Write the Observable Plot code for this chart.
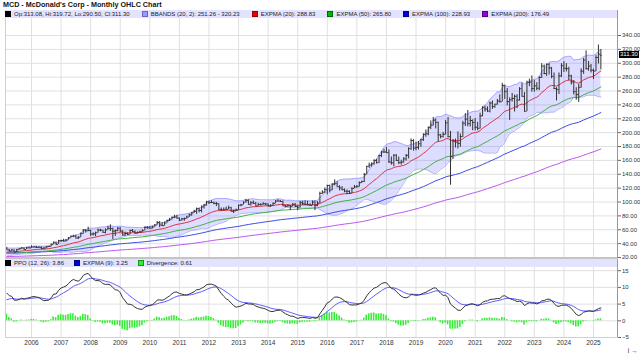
<!DOCTYPE html>
<html><head><meta charset="utf-8">
<script src="https://cdn.jsdelivr.net/npm/d3@7"></script>
<script src="https://cdn.jsdelivr.net/npm/@observablehq/plot@0.6"></script>
<style>
body{margin:0;background:#fff;font-family:"Liberation Sans",Arial,sans-serif;color:#222;}
#wrap{position:relative;width:640px;height:355px;overflow:hidden;background:#fff;}
#title{position:absolute;left:3px;top:0px;font-weight:bold;font-size:7.2px;line-height:10px;color:#111;white-space:nowrap;}
.panel{position:absolute;left:0;}
.leg{position:absolute;left:5px;width:612px;height:8px;background:#e3e3ff;display:flex;align-items:center;font-size:6px;white-space:nowrap;color:#222;}
.it{display:flex;align-items:center;}
.it i{display:inline-block;width:4px;height:4px;border:1px solid #000;margin-right:3px;}
#sep{position:absolute;left:5px;width:612px;top:257px;height:2px;background:#c4c4c4;}
#last{position:absolute;left:619px;height:7px;line-height:7px;font-size:6px;background:#000;color:#fff;padding:0 1px;}
</style></head>
<body><div id="wrap"><div id="title">MCD - McDonald's Corp - Monthly OHLC Chart</div></div>
<script>
// ---------- DATA (monthly bars, Mar 2005 .. Apr 2025) ----------
const historyCloses = [16.9,13.9,14.46,17.1,18.65,22.06,23.0,22.5,23.54,25.0,25.5,24.83,
 25.9,28.6,28.57,27.23,26.45,26.0,27.5,27.0,28.03,29.15,30.74,32.06, 32.39,33.08]; // Jan 2003 .. Feb 2005
const opens = [
 33.0,31.1,29.4,30.9,27.8,31.2,32.5,33.5,31.6,33.9,
 33.8,35.0,34.9,34.4,34.6,33.2,33.6,35.4,35.9,39.1,41.9,38.9,
 44.3,44.4,43.7,45.1,48.3,50.6,50.8,47.9,49.3,54.5,59.7,58.5,
 58.9,53.6,54.1,55.8,59.6,59.3,56.2,59.8,62.1,61.7,57.9,58.8,
 62.2,58.0,52.3,54.6,53.3,59.0,57.5,55.1,56.2,57.1,58.6,63.3,
 62.6,62.4,63.9,66.7,70.6,66.9,65.9,69.7,73.0,74.5,77.8,78.3,
 76.8,73.7,75.7,76.1,78.3,81.5,84.3,86.5,90.5,87.8,92.9,95.5,
 100.3,99.1,99.3,98.1,97.5,89.3,88.5,89.4,89.5,91.8,86.8,87.0,
 88.2,95.3,95.9,99.7,102.1,96.6,99.0,98.1,94.4,96.2,96.5,97.4,
 97.0,94.2,95.1,98.0,101.4,101.4,100.7,94.6,93.7,94.8,93.7,96.8,
 93.7,92.5,98.9,97.4,96.6,95.9,95.1,99.9,95.0,98.5,112.3,114.2,
 118.1,123.8,117.2,125.7,126.5,122.1,120.3,117.7,115.7,115.4,112.6,119.4,
 121.7,122.6,127.7,129.6,139.9,151.3,153.2,155.1,160.0,156.7,166.9,172.2,
 172.1,171.2,157.7,156.4,167.4,160.0,156.7,157.5,162.2,167.3,176.9,188.5,
 177.6,178.8,183.9,189.9,197.6,198.3,207.7,210.7,218.0,214.7,196.7,194.5,
 197.6,214.0,194.0,165.4,187.6,186.3,184.5,194.3,213.5,219.5,213.0,217.4,
 214.6,207.8,206.2,224.1,236.1,233.9,231.0,242.7,237.5,241.1,245.6,244.5,
 268.1,259.5,244.7,247.3,249.2,252.2,246.9,263.4,252.3,230.7,272.7,272.8,
 263.5,267.4,263.9,279.6,295.8,285.1,298.4,293.2,281.2,263.4,262.2,281.8,
 296.5,292.7,292.3,281.9,273.0,259.0,254.8,265.4,288.6,304.5,292.1,295.9,
 289.9,288.7,308.3,313.08];
const highs = [
 34.6,31.4,31.3,31.0,31.5,32.8,34.2,33.8,34.4,35.0,
 36.8,36.0,36.1,35.8,35.4,34.2,35.6,36.1,39.3,42.4,42.3,44.7,
 44.9,46.2,45.7,48.5,51.0,52.0,52.2,50.0,55.2,60.2,60.2,63.7,
 59.5,55.5,56.6,61.1,60.6,59.4,61.3,65.0,67.0,62.5,59.5,63.0,
 63.0,58.6,56.6,55.6,59.5,60.4,58.4,56.8,58.0,60.0,64.1,64.7,
 64.8,65.2,67.4,71.8,71.9,70.4,71.0,73.7,76.3,78.3,80.9,80.9,
 77.0,76.4,76.9,79.5,82.4,84.9,88.0,91.3,91.3,94.4,96.5,101.0,
 101.4,101.9,100.0,99.5,97.6,91.3,91.4,92.7,94.0,92.3,88.5,89.9,
 95.5,96.6,100.0,103.7,103.2,100.8,101.5,99.4,98.1,97.5,99.0,98.0,
 97.6,96.0,98.5,102.0,103.4,102.0,101.6,95.3,95.7,95.0,97.6,97.7,
 94.7,100.8,101.1,101.7,101.0,97.5,101.5,101.5,100.5,114.2,116.3,120.2,
 124.2,124.4,126.4,131.9,129.1,123.5,122.2,118.8,117.2,116.2,120.6,123.9,
 123.6,128.9,130.0,141.0,151.4,156.1,156.6,160.8,161.6,167.3,173.0,175.9,
 178.7,175.0,164.9,168.1,168.4,164.8,160.2,163.9,168.5,178.2,190.9,189.9,
 186.4,187.3,190.6,198.2,203.8,208.0,216.9,221.9,219.5,215.4,197.5,200.3,
 217.4,221.9,201.8,190.0,190.8,201.0,198.0,216.3,227.4,231.9,223.4,218.5,
 220.3,214.9,228.0,237.4,238.2,237.2,244.0,245.6,240.5,247.8,254.5,271.2,
 268.5,263.7,250.1,256.5,254.2,254.7,264.8,271.1,257.9,274.2,277.0,281.7,
 275.0,272.0,280.3,299.4,297.6,299.0,299.4,294.0,286.0,264.8,286.0,299.4,
 302.4,299.4,294.2,282.7,275.0,264.7,269.5,292.0,307.0,317.9,302.6,298.2,
 291.5,311.0,326.3,319.72];
const lows = [
 30.9,28.3,28.8,27.7,27.4,31.0,32.2,31.0,31.4,33.1,
 33.4,34.2,33.9,33.9,32.5,31.7,32.8,34.6,35.5,38.7,38.6,38.8,
 42.0,42.3,42.3,44.9,48.1,49.5,47.5,45.9,48.8,53.5,55.2,57.2,
 50.4,50.9,50.0,55.2,57.1,55.4,54.0,59.4,57.5,45.8,50.4,57.0,
 56.5,51.3,50.4,51.3,52.9,56.0,53.9,53.9,55.3,56.6,58.5,61.4,
 61.1,61.1,63.5,66.6,62.9,64.8,65.3,69.5,71.9,74.2,76.5,75.9,
 72.1,72.6,72.1,75.5,77.7,79.5,83.8,82.1,84.3,84.3,89.8,94.2,
 96.6,97.8,96.0,93.4,88.5,87.1,87.5,88.6,89.0,85.9,83.3,86.6,
 88.1,93.1,95.6,98.4,96.5,94.1,97.0,94.2,94.2,94.1,95.8,94.6,
 93.5,92.2,94.5,97.3,100.1,99.5,94.3,91.8,92.2,87.6,93.0,92.4,
 87.5,91.5,95.0,94.9,95.4,94.4,94.5,87.5,93.3,98.0,111.1,112.3,
 110.3,113.0,116.3,123.2,122.1,116.0,116.5,113.3,110.3,110.8,112.2,119.1,
 119.8,121.4,126.7,128.0,139.4,148.4,150.3,153.0,155.0,155.6,164.0,170.0,
 169.9,155.8,153.1,150.9,158.8,153.9,153.1,156.0,159.0,162.0,174.5,173.4,
 173.8,175.0,178.7,187.3,193.3,195.5,204.3,209.6,205.3,186.8,190.9,192.2,
 196.6,193.0,124.2,161.6,177.9,176.5,179.0,193.1,208.7,208.4,208.1,202.7,
 202.7,202.7,205.2,222.9,229.5,228.9,228.5,233.5,235.0,239.5,242.6,244.1,
 247.8,238.5,217.7,243.9,229.7,234.6,245.5,252.2,230.6,230.3,266.3,258.4,
 258.3,260.5,260.6,278.1,283.5,281.0,283.0,277.7,262.3,245.7,255.0,279.4,
 286.6,287.5,274.9,268.6,254.3,246.7,243.5,264.0,284.0,290.5,288.5,286.0,
 276.5,287.8,299.0,290.50];
const closes = [
 31.14,29.31,30.94,27.75,31.17,32.45,33.49,31.60,33.85,33.72,
 35.01,34.91,34.36,34.57,33.16,33.60,35.39,35.90,39.12,41.92,38.87,44.33,
 44.35,43.74,45.05,48.28,50.55,50.76,47.87,49.25,54.47,59.70,58.46,58.91,
 53.55,54.13,55.77,59.58,59.32,56.22,59.79,62.05,61.70,57.93,58.75,62.19,
 58.02,52.26,54.57,53.29,58.99,57.49,55.06,56.23,57.07,58.61,63.25,62.44,
 62.43,63.86,66.72,70.59,66.90,65.87,69.73,73.04,74.51,77.77,78.29,76.76,
 73.67,75.68,76.09,78.31,81.54,84.32,86.52,90.48,87.82,92.85,95.53,100.33,
 99.05,99.27,98.10,97.45,89.34,88.53,89.36,89.49,91.75,86.80,87.04,88.21,
 95.29,95.90,99.69,102.14,96.57,99.00,98.08,94.36,96.21,96.52,97.41,97.03,
 94.17,95.09,98.03,101.38,101.44,100.74,94.56,93.72,94.81,93.73,96.84,93.70,
 92.45,98.90,97.44,96.55,95.93,95.07,99.86,94.98,98.53,112.25,114.16,118.14,
 123.78,117.19,125.68,126.49,122.06,120.34,117.65,115.66,115.36,112.57,119.37,121.72,
 122.57,127.65,129.61,139.93,151.30,153.16,155.14,159.97,156.68,166.91,172.21,172.12,
 171.18,157.74,156.38,167.44,160.00,156.69,157.54,162.23,167.29,176.90,188.50,177.57,
 178.78,183.86,189.90,197.57,198.27,207.66,210.72,217.97,214.71,196.70,194.48,197.61,
 213.97,194.03,165.35,187.56,186.32,184.47,194.29,213.52,219.49,213.00,217.44,214.58,
 207.84,206.15,224.14,236.09,233.89,230.99,242.70,237.46,241.11,245.55,244.50,268.07,
 259.45,244.72,247.28,249.16,252.21,246.88,263.37,252.29,230.74,272.65,272.79,263.53,
 267.40,263.91,279.61,295.76,285.11,298.41,293.20,281.16,263.44,262.17,281.83,296.51,
 292.73,292.29,281.95,273.04,259.05,254.84,265.41,288.64,304.51,292.09,295.92,289.89,
 288.72,308.30,312.37,311.30];
// starting values of the averages before the first history month (Dec 2002)
const emaStart = {e12: 19.5, e26: 24, e20: 21, e50: 24, e100: 27, e200: 20, sig: -8};
const yearLabels = ["2006","2007","2008","2009","2010","2011","2012","2013","2014","2015",
 "2016","2017","2018","2019","2020","2021","2022","2023","2024","2025"];
const yearBarIndex = [10,22,34,46,58,70,82,94,106,118,130,142,154,166,178,190,202,214,226,238];
const priceTicks = [20,40,60,80,100,120,140,160,180,200,220,240,260,280,300,320,340];
const ppoTicks = [-5,0,5,10,15];
const lastClose = 311.30;
const mainLegend = [
 {label:"Op:313.08, Hi:319.72, Lo:290.50, Cl:311.30", fill:"#000000", border:"#000000"},
 {label:"BBANDS (20, 2): 251.26 - 320.23", fill:"#9999ff", border:"#6666cc"},
 {label:"EXPMA (20): 288.83", fill:"#ee0000", border:"#990000"},
 {label:"EXPMA (50): 265.80", fill:"#00bb00", border:"#006600"},
 {label:"EXPMA (100): 228.93", fill:"#0000dd", border:"#000088"},
 {label:"EXPMA (200): 176.49", fill:"#9900dd", border:"#550088"}];
const lowerLegend = [
 {label:"PPO (12, 26): 3.86", fill:"#000000", border:"#000000"},
 {label:"EXPMA (9): 3.25", fill:"#0000dd", border:"#000088"},
 {label:"Divergence: 0.61", fill:"#33ee33", border:"#119911"}];

// ---------- indicator computation ----------
const all = historyCloses.concat(closes);
const off = historyCloses.length;
function ema(arr, n, start){ const a = 2/(n+1); let e = start; return arr.map(v => (e = e + a*(v - e))); }
const e12 = ema(all,12,emaStart.e12), e26 = ema(all,26,emaStart.e26);
const e20 = ema(all,20,emaStart.e20), e50 = ema(all,50,emaStart.e50);
const e100 = ema(all,100,emaStart.e100), e200 = ema(all,200,emaStart.e200);
const ppo = e12.map((v,k)=> (v - e26[k]) / e26[k] * 100);
const sig = ema(ppo, 9, emaStart.sig);
const rows = closes.map((c,i)=>{
  const k = i + off;
  const win = all.slice(k-19, k+1);
  const m = d3.mean(win);
  const sd = Math.sqrt(d3.mean(win, v => (v-m)*(v-m)));
  return {i, o:opens[i], h:highs[i], l:lows[i], c,
    e20:e20[k], e50:e50[k], e100:e100[k], e200:e200[k],
    bbU:m+2*sd, bbL:m-2*sd, ppo:ppo[k], sig:sig[k], div:ppo[k]-sig[k]};
});

// ---------- charts ----------
const xDomain = [-0.55, 247.74];
const font = {fontFamily:"'Liberation Sans', Arial, sans-serif", fontSize:"6px", background:"transparent", color:"#222", overflow:"visible"};
const grid = "#e0e0e0";

const main = Plot.plot({
  width:640, height:249, marginLeft:5, marginRight:23, marginTop:1, marginBottom:0,
  style:font,
  x:{type:"linear", domain:xDomain, axis:null},
  y:{domain:[20,340], range:[248,26], axis:null},
  marks:[
    Plot.ruleY(priceTicks, {stroke:grid}),
    Plot.ruleX(yearBarIndex, {stroke:grid}),
    Plot.areaY(rows, {x:"i", y1:"bbL", y2:"bbU", fill:"#6666ff", fillOpacity:0.22}),
    Plot.line(rows, {x:"i", y:"bbU", stroke:"#9999ff", strokeWidth:0.8}),
    Plot.line(rows, {x:"i", y:"bbL", stroke:"#9999ff", strokeWidth:0.8}),
    Plot.line(rows, {x:"i", y:"e200", stroke:"#bb55ee", strokeWidth:1}),
    Plot.line(rows, {x:"i", y:"e100", stroke:"#3a4ae8", strokeWidth:1}),
    Plot.line(rows, {x:"i", y:"e50", stroke:"#44b044", strokeWidth:1}),
    Plot.line(rows, {x:"i", y:"e20", stroke:"#dd3344", strokeWidth:1}),
    Plot.ruleX(rows, {x:"i", y1:"l", y2:"h", stroke:"#333", strokeWidth:1}),
    Plot.ruleY(rows, {x1:d=>d.i-0.5, x2:"i", y:"o", stroke:"#333", strokeWidth:1}),
    Plot.ruleY(rows, {x1:"i", x2:d=>d.i+0.5, y:"c", stroke:"#333", strokeWidth:1}),
    Plot.frame({stroke:"#d0d0d0"}),
    Plot.ruleX([xDomain[1]], {stroke:"#999"}),
    Plot.axisY(priceTicks, {anchor:"right", tickSize:3, tickPadding:1.5, fontSize:6, stroke:"#666", fill:"#333", tickFormat:d=>d.toFixed(2)})
  ]
});

const lower = Plot.plot({
  width:640, height:97, marginLeft:5, marginRight:23, marginTop:1, marginBottom:18,
  style:font,
  x:{type:"linear", domain:xDomain, axis:null},
  y:{domain:[-5,15], range:[79,12.2], axis:null},
  marks:[
    Plot.ruleY(ppoTicks, {stroke:grid}),
    Plot.ruleX(yearBarIndex, {stroke:grid}),
    Plot.rect(rows, {x1:d=>d.i-0.32, x2:d=>d.i+0.32, y1:0, y2:"div", fill:"#33ee33"}),
    Plot.line(rows, {x:"i", y:"sig", stroke:"#5c5cff", strokeWidth:1}),
    Plot.line(rows, {x:"i", y:"ppo", stroke:"#333", strokeWidth:1}),
    Plot.frame({stroke:"#d0d0d0"}),
    Plot.ruleX([xDomain[1]], {stroke:"#999"}),
    Plot.axisY(ppoTicks, {anchor:"right", tickSize:3, tickPadding:1.5, fontSize:6, stroke:"#666", fill:"#333"}),
    Plot.axisX(yearBarIndex, {anchor:"bottom", tickSize:0, tickPadding:3, fontSize:6.5, fill:"#333",
      tickFormat:d=>yearLabels[yearBarIndex.indexOf(d)]})
  ]
});

const wrap = document.getElementById("wrap");
function place(el, top){ const d = document.createElement("div"); d.className="panel"; d.style.top = top+"px"; d.appendChild(el); wrap.appendChild(d); }
place(main, 9);
place(lower, 258);

function legend(items, top, gap){
  const d = document.createElement("div"); d.className = "leg"; d.style.top = top+"px";
  for (const it of items){
    const s = document.createElement("span"); s.className = "it"; s.style.marginRight = gap + "px";
    const q = document.createElement("i"); q.style.background = it.fill; q.style.borderColor = it.border;
    s.appendChild(q); s.appendChild(document.createTextNode(it.label)); d.appendChild(s);
  }
  wrap.appendChild(d);
}
legend(mainLegend, 10, 12);
legend(lowerLegend, 259, 10);
const sep = document.createElement("div"); sep.id = "sep"; wrap.appendChild(sep);
const lb = document.createElement("div"); lb.id = "last"; lb.textContent = lastClose.toFixed(2);
lb.style.top = (9 + main.scale("y").apply(lastClose) - 3.5) + "px";
wrap.appendChild(lb);
</script></body></html>
